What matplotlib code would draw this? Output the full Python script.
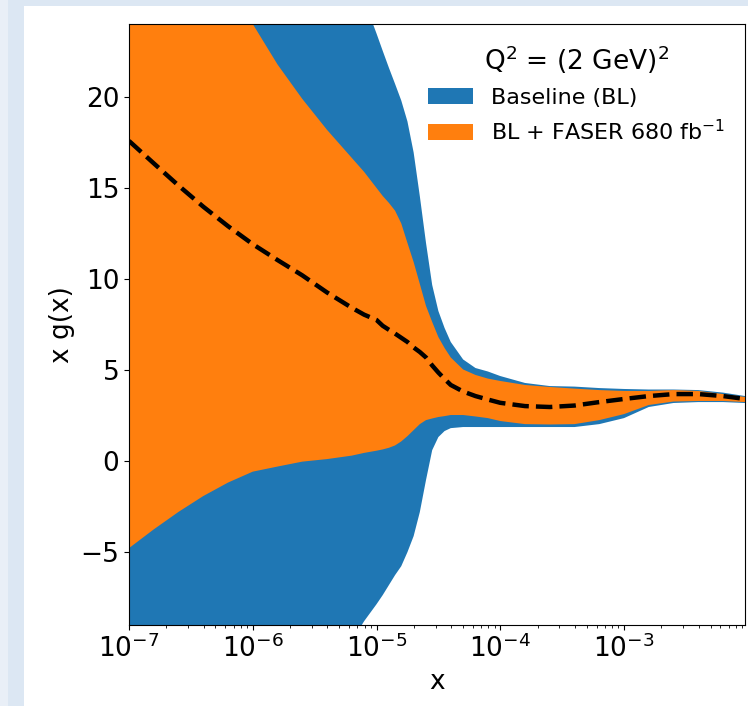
import numpy as np
import matplotlib
matplotlib.use("Agg")
import matplotlib.pyplot as plt
from matplotlib.patches import Rectangle

# x grid (log10 x)
log_x = [-7.0, -6.8, -6.6, -6.4, -6.2, -6.0, -5.8, -5.6, -5.4, -5.2, -5.1,
         -5.0, -4.95, -4.9, -4.85, -4.8, -4.75, -4.7, -4.65, -4.6, -4.55,
         -4.5, -4.45, -4.4, -4.3, -4.2, -4.1, -4.0, -3.8, -3.6, -3.4,
         -3.2, -3.0, -2.8, -2.6, -2.4, -2.2, -2.02]

# central value, x g(x)
central = [17.58, 16.35, 15.13, 13.97, 12.90, 11.91, 11.04, 10.20, 9.26, 8.42, 8.04,
           7.75, 7.43, 7.21, 7.00, 6.77, 6.54, 6.24, 5.99, 5.69, 5.25,
           4.86, 4.51, 4.18, 3.82, 3.57, 3.38, 3.20, 3.02, 2.97, 3.05,
           3.24, 3.41, 3.57, 3.68, 3.68, 3.57, 3.41]

# baseline band
bl_up = [44.0, 43.0, 42.0, 41.0, 40.0, 39.0, 37.0, 34.0, 31.0, 27.0, 25.3,
         23.48, 22.53, 21.60, 20.71, 19.80, 18.65, 16.95, 14.55, 11.98, 9.67,
         8.24, 7.31, 6.54, 5.58, 5.11, 4.92, 4.67, 4.29, 4.12, 4.09,
         4.01, 3.96, 3.93, 3.93, 3.90, 3.76, 3.57]
bl_lo = [-17.0, -16.5, -16.0, -15.5, -15.0, -14.5, -14.0, -13.0, -11.8, -9.9, -8.79,
         -7.86, -7.36, -6.81, -6.26, -5.77, -5.00, -4.12, -2.80, -1.04, 0.60,
         1.32, 1.65, 1.81, 1.87, 1.87, 1.87, 1.87, 1.87, 1.87, 1.87,
         2.03, 2.36, 2.97, 3.19, 3.24, 3.24, 3.19]

# BL + FASER band
fs_up = [38.0, 35.0, 32.0, 29.0, 26.3, 24.0, 21.78, 19.89, 18.19, 16.65, 15.88,
         15.00, 14.56, 14.18, 13.75, 13.05, 11.98, 10.93, 9.73, 8.52, 7.64,
         6.81, 6.21, 5.69, 5.03, 4.73, 4.53, 4.40, 4.18, 4.07, 3.98,
         3.90, 3.85, 3.85, 3.90, 3.85, 3.68, 3.52]
fs_lo = [-4.78, -3.75, -2.79, -1.92, -1.18, -0.58, -0.30, -0.03, 0.11, 0.30, 0.45,
         0.57, 0.64, 0.73, 0.86, 1.08, 1.37, 1.70, 2.03, 2.25, 2.34,
         2.42, 2.47, 2.53, 2.53, 2.45, 2.36, 2.20, 2.03, 2.01, 2.03,
         2.25, 2.58, 3.08, 3.27, 3.30, 3.30, 3.24]

x = 10 ** np.array(log_x)

fig = plt.figure(figsize=(7.48, 7.06), dpi=100)
fig.patch.set_facecolor('#dce7f3')
# slide background
fig.patches.append(Rectangle((0, 0), 8 / 748, 1, transform=fig.transFigure,
                             facecolor='#e9eff7', edgecolor='none', zorder=-2))
fig.patches.append(Rectangle((24 / 748, 0), 1, 1 - 6 / 706, transform=fig.transFigure,
                             facecolor='white', edgecolor='none', zorder=-1))

ax = fig.add_axes([129 / 748, 1 - 625 / 706, 616 / 748, 601 / 706])
ax.fill_between(x, bl_lo, bl_up, color='#1f77b4', lw=0, label='Baseline (BL)')
ax.fill_between(x, fs_lo, fs_up, color='#ff7f0e', lw=0, label='BL + FASER 680 fb$^{-1}$')
ax.plot(x, central, color='black', ls='--', lw=3.2)

ax.set_xscale('log')
ax.set_xlim(1e-7, 9.5e-3)
ax.set_ylim(-9, 24)
ax.set_yticks([-5, 0, 5, 10, 15, 20])
ax.set_xlabel('x', fontsize=19)
ax.set_ylabel('x g(x)', fontsize=19)
ax.tick_params(axis='both', which='major', labelsize=19)

leg = ax.legend(loc='upper right', frameon=False, fontsize=16,
                title='Q$^2$ = (2 GeV)$^2$', title_fontsize=19)

fig.savefig('out.png', dpi=100)
